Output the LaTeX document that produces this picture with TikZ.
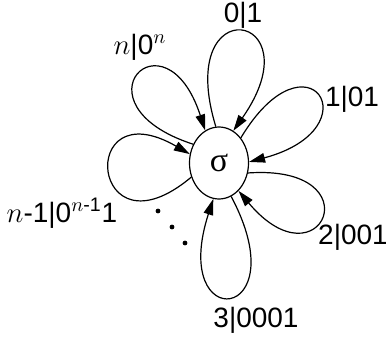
\documentclass[tikz,border=0pt]{standalone}
\usepackage{fontspec}
\setmainfont{Liberation Sans}
\newfontfamily\sigmafont{Liberation Serif}
\usetikzlibrary{shapes.geometric,arrows.meta}
\begin{document}
\begin{tikzpicture}[x = 0.5pt, y = 0.5pt,
	petal/.style = {-{Triangle[length=8pt,width=4.8pt]}, line width = 0.6pt},
	lbl/.style = {font = \fontsize{14}{16}\selectfont, inner sep = 0pt}]
	\useasboundingbox (0,0) rectangle (386,343);
	\node [draw, ellipse, line width = 0.6pt, minimum width = 29.5pt, minimum height = 36pt, inner sep = 0pt,
		font = \fontsize{17}{19}\sigmafont] (state) at (219,180) {σ};
	% loops: start anchor / out / in / end anchor / distance
	\foreach \a/\o/\i/\b/\d in {95/107/55/66/73, 49/59/15/2/65, 341/4/-50/305/64,
		290/-62/-108/261/72, 207/220/150/163/66, 144/162/108/113/65}{
	\draw [petal] (state.\a) to [out = \o, in = \i, distance = \d pt] (state.\b);
	}
	\node [lbl] (l0) at (243,328) {0|1};
	\node [lbl] (l1) at (352,244) {1|01};
	\node [lbl] (l2) at (353,106) {2|001};
	\node [lbl] (l3) at (256,23) {3|0001};
	\node [lbl] (ln) at (140,296) {$n$|0$^n$};
	\node [lbl] (lm) at (62,130) {$n$-1|0\textsuperscript{$n$-1}1};
	\foreach \x/\y in {158/132, 172/116, 185/100}{
	\fill (\x,\y) circle (1.2pt);
	}
\end{tikzpicture}
\end{document}
